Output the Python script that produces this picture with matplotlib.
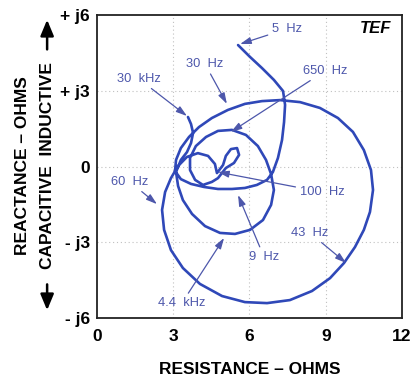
import numpy as np
import matplotlib
matplotlib.use("Agg")
import matplotlib.pyplot as plt
from matplotlib.patches import FancyArrowPatch

plt.rcParams['font.family'] = ['Liberation Sans', 'DejaVu Sans']

# impedance locus (ohms), in sweep order 5 Hz -> 30 kHz
resistance = [5.55, 6.02, 6.49, 6.96, 7.32, 7.40, 7.36, 7.28, 7.12, 6.92, 6.69, 6.29, 5.82, 5.31, 4.76,
              4.21, 3.70, 3.30, 3.07,
              3.11, 3.30, 3.62, 4.01, 4.52, 5.15, 5.82, 6.49, 7.20, 7.99, 8.77, 9.48, 10.07, 10.50,
              10.78, 10.86, 10.74, 10.50, 10.15, 9.72, 9.17, 8.46, 7.59, 6.69, 5.82, 4.92, 4.05,
              3.38, 2.91, 2.64, 2.56, 2.68, 2.91,
              3.19, 3.54, 3.97, 4.37, 4.64, 4.72,
              4.96, 5.07, 5.27, 5.51, 5.59, 5.39, 5.07, 4.76,
              4.52, 4.17, 3.86, 3.66, 3.66,
              3.89, 4.29, 4.76, 5.31, 5.86, 6.33, 6.65, 6.85,
              6.96, 6.85, 6.53, 6.02, 5.43, 4.84, 4.25, 3.74, 3.38, 3.19, 3.11,
              3.30, 3.54, 3.70, 3.78, 3.70, 3.58]
reactance = [4.81, 4.34, 3.90, 3.43, 2.99, 2.44, 1.76, 1.05, 0.34, -0.22, -0.53, -0.73, -0.85, -0.89, -0.89,
             -0.81, -0.69, -0.50, -0.18,
             0.26, 0.73, 1.17, 1.56, 1.92, 2.24, 2.48, 2.59, 2.63, 2.55, 2.32, 1.92, 1.37, 0.65,
             -0.14, -0.93, -1.80, -2.51, -3.19, -3.82, -4.42, -4.93, -5.29, -5.41, -5.37, -5.13, -4.65,
             -4.02, -3.31, -2.51, -1.72, -1.01, -0.46,
             0.02, 0.38, 0.53, 0.42, 0.10, -0.26,
             0.06, 0.42, 0.69, 0.73, 0.46, 0.14, -0.06, -0.46,
             -0.61, -0.73, -0.53, -0.14, 0.34,
             0.81, 1.17, 1.41, 1.45, 1.25, 0.81, 0.26, -0.30,
             -0.93, -1.52, -2.12, -2.51, -2.67, -2.63, -2.36, -1.88, -1.33, -0.77, -0.22,
             0.26, 0.57, 0.93, 1.33, 1.68, 1.96]

# frequency markers: label, point on curve, label position
freq_labels = ["5  Hz", "30  Hz", "650  Hz", "30  kHz", "60  Hz", "100  Hz", "9  Hz", "43  Hz", "4.4  kHz"]
freq_points = [(5.63, 4.85), (5.11, 2.48), (5.27, 1.37), (3.54, 2.00), (2.36, -1.49),
               (4.76, -0.22), (5.55, -1.13), (9.80, -3.82), (5.00, -2.83)]
label_pos = [(7.47, 5.45), (4.25, 4.06), (8.97, 3.78), (1.65, 3.47), (1.30, -0.61),
             (8.85, -1.01), (6.57, -3.58), (8.38, -2.63), (3.34, -5.41)]

x_ticks = [0, 3, 6, 9, 12]
x_ticklabels = ["0", "3", "6", "9", "12"]
y_ticks = [6, 3, 0, -3, -6]
y_ticklabels = ["+ j6", "+ j3", "0", "- j3", "- j6"]

curve_col = '#2f48b8'
label_col = '#4d57ab'

fig = plt.figure(figsize=(4.17, 3.78), dpi=100)
ax = fig.add_axes([0.2326, 0.1587, 0.7314, 0.8016])
ax.set_xlim(0, 12)
ax.set_ylim(-6, 6)

for g in [3, 6, 9]:
    ax.axvline(g, color='#c0c0c0', lw=0.8, ls=(0, (1, 2.5)), zorder=0)
for g in [3, 0, -3]:
    ax.axhline(g, color='#c0c0c0', lw=0.8, ls=(0, (1, 2.5)), zorder=0)

ax.plot(resistance, reactance, color=curve_col, lw=1.9, solid_joinstyle='round',
        solid_capstyle='round', zorder=3)

for txt, pt, pos in zip(freq_labels, freq_points, label_pos):
    ax.annotate(txt, xy=pt, xytext=pos, ha='center', va='center', fontsize=9.3,
                color=label_col,
                arrowprops=dict(arrowstyle='-|>,head_length=0.7,head_width=0.22',
                                color=label_col, lw=0.9, shrinkA=1, shrinkB=0))

ax.text(10.94, 5.45, "TEF", ha='center', va='center', fontsize=12,
        fontweight='bold', fontstyle='italic', color='black')

ax.set_xticks(x_ticks)
ax.set_xticklabels(x_ticklabels, fontsize=12.5, fontweight='bold')
ax.set_yticks(y_ticks)
ax.set_yticklabels(y_ticklabels, fontsize=12.5, fontweight='bold')
ax.tick_params(length=0, pad=5)
ax.tick_params(axis='x', pad=8)
for s in ax.spines.values():
    s.set_linewidth(1.3)
    s.set_color('#222222')

fig.text(0.600, 0.022, "RESISTANCE \u2013 OHMS", ha='center', va='center',
         fontsize=12.5, fontweight='bold')
fig.text(0.053, 0.563, "REACTANCE \u2013 OHMS", ha='center', va='center',
         rotation=90, fontsize=12.5, fontweight='bold')
fig.text(0.113, 0.561, "CAPACITIVE  INDUCTIVE", ha='center', va='center',
         rotation=90, fontsize=12.5, fontweight='bold')

for y0, y1 in [(0.255, 0.172), (0.862, 0.955)]:
    fig.add_artist(FancyArrowPatch((0.113, y0), (0.113, y1), transform=fig.transFigure,
                                   arrowstyle='-|>,head_length=6,head_width=2.5',
                                   mutation_scale=1.6, lw=1.8, color='black'))

fig.savefig("out.png", dpi=100)
